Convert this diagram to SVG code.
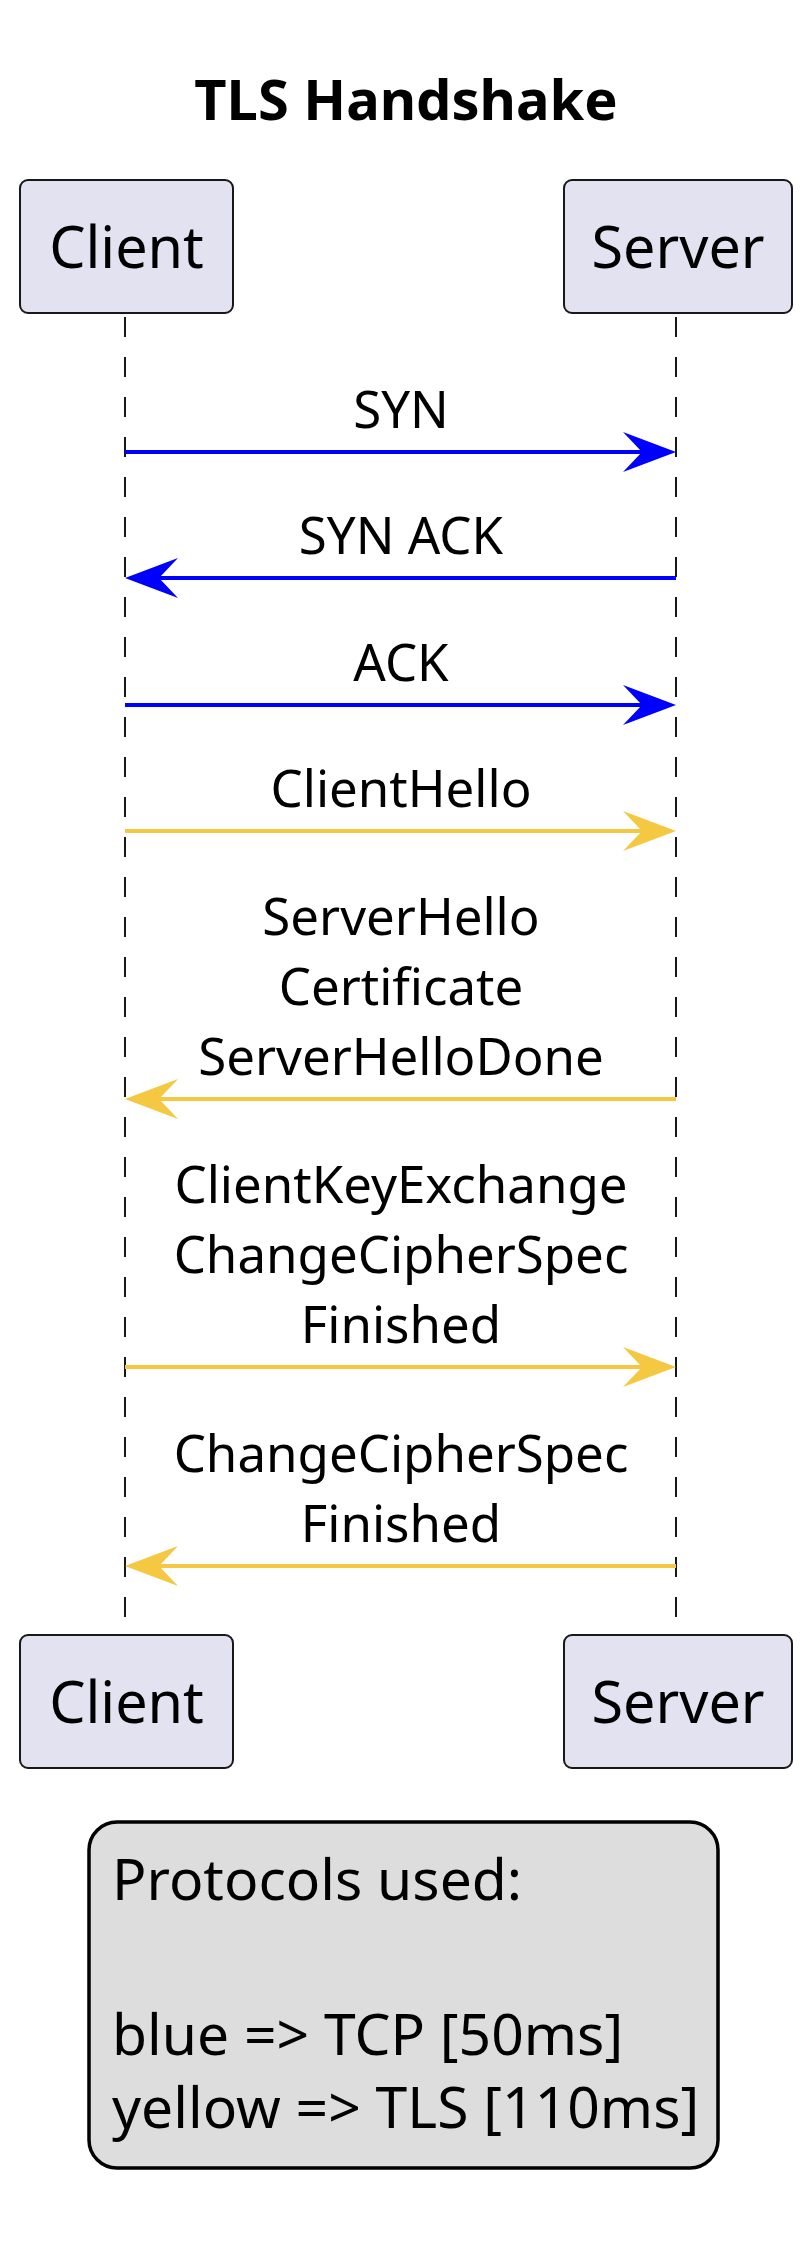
<svg xmlns="http://www.w3.org/2000/svg" width="812" height="2243" viewBox="0 0 812 2243">
<style>
text{font-family:"Noto Sans","Open Sans","DejaVu Sans",sans-serif;fill:#000}
.title{font-size:56px;font-weight:bold;text-anchor:middle}
.part{font-size:57.5px;text-anchor:middle}
.msg{font-size:51px;text-anchor:middle}
.note{font-size:57px}
.pbox{fill:#E2E2F0;stroke:#181818;stroke-width:2}
.life{stroke:#181818;stroke-width:2;stroke-dasharray:20,20}
.tcp{stroke:#0000FF;stroke-width:4;fill:none}
.tls{stroke:#F5C842;stroke-width:4;fill:none}
.tcph{fill:#0000FF}
.tlsh{fill:#F5C842}
</style>
<rect width="812" height="2243" fill="#FFFFFF"/>
<text class="title" x="406" y="120">TLS Handshake</text>
<g id="lifelines">
<line class="life" x1="125" y1="317" x2="125" y2="1630"/>
<line class="life" x1="676" y1="317" x2="676" y2="1630"/>
</g>
<g id="client-top"><rect class="pbox" x="20" y="180" width="213" height="133" rx="8"/><text class="part" x="126.5" y="268">Client</text></g>
<g id="server-top"><rect class="pbox" x="564" y="180" width="228" height="133" rx="8"/><text class="part" x="678" y="268">Server</text></g>
<g id="client-bottom"><rect class="pbox" x="20" y="1635" width="213" height="133" rx="8"/><text class="part" x="126.5" y="1723">Client</text></g>
<g id="server-bottom"><rect class="pbox" x="564" y="1635" width="228" height="133" rx="8"/><text class="part" x="678" y="1723">Server</text></g>
<g id="connectors">
<line class="tcp" x1="125" y1="452" x2="660" y2="452"/>
<polygon class="tcph" points="676,452 623,432 642,452 623,472"/>
<text class="msg" x="401" y="428">SYN</text>
<line class="tcp" x1="141" y1="578" x2="676" y2="578"/>
<polygon class="tcph" points="125,578 178,558 159,578 178,598"/>
<text class="msg" x="401" y="554">SYN ACK</text>
<line class="tcp" x1="125" y1="705" x2="660" y2="705"/>
<polygon class="tcph" points="676,705 623,685 642,705 623,725"/>
<text class="msg" x="401" y="681">ACK</text>
<line class="tls" x1="125" y1="831" x2="660" y2="831"/>
<polygon class="tlsh" points="676,831 623,811 642,831 623,851"/>
<text class="msg" x="401" y="807">ClientHello</text>
<line class="tls" x1="141" y1="1099" x2="676" y2="1099"/>
<polygon class="tlsh" points="125,1099 178,1079 159,1099 178,1119"/>
<text class="msg" x="401" y="935">ServerHello</text>
<text class="msg" x="401" y="1005">Certificate</text>
<text class="msg" x="401" y="1075">ServerHelloDone</text>
<line class="tls" x1="125" y1="1367" x2="660" y2="1367"/>
<polygon class="tlsh" points="676,1367 623,1347 642,1367 623,1387"/>
<text class="msg" x="401" y="1203">ClientKeyExchange</text>
<text class="msg" x="401" y="1273">ChangeCipherSpec</text>
<text class="msg" x="401" y="1343">Finished</text>
<line class="tls" x1="141" y1="1566" x2="676" y2="1566"/>
<polygon class="tlsh" points="125,1566 178,1546 159,1566 178,1586"/>
<text class="msg" x="401" y="1472">ChangeCipherSpec</text>
<text class="msg" x="401" y="1542">Finished</text>
</g>
<g id="note">
<rect x="89" y="1822" width="629" height="346" rx="28" fill="#DDDDDD" stroke="#000000" stroke-width="3.5"/>
<text class="note" x="112" y="1900">Protocols used:</text>
<text class="note" x="112" y="2055">blue =&gt; TCP [50ms]</text>
<text class="note" x="112" y="2128">yellow =&gt; TLS [110ms]</text>
</g>
</svg>
